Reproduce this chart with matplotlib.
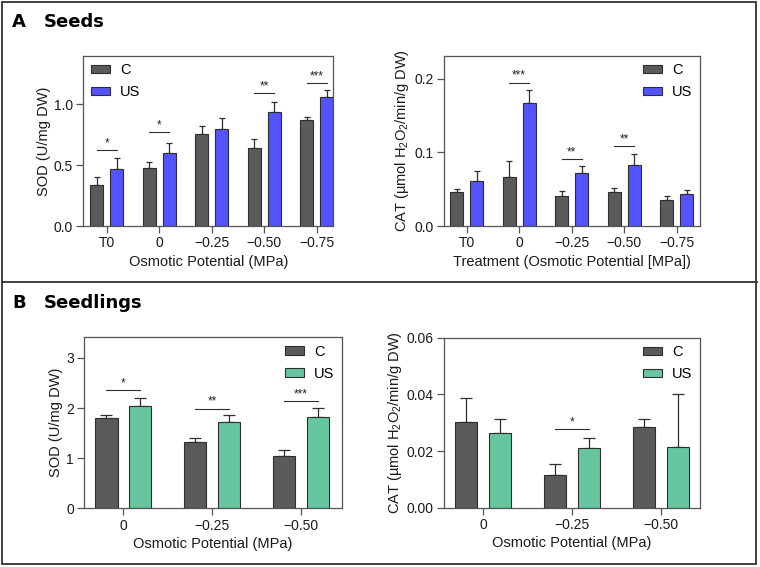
import matplotlib
matplotlib.use("Agg")
import matplotlib.pyplot as plt
import numpy as np
from matplotlib.patches import Rectangle
from matplotlib.lines import Line2D

plt.rcParams['font.family'] = ['Liberation Sans', 'DejaVu Sans']
plt.rcParams['mathtext.fontset'] = 'custom'
plt.rcParams['mathtext.rm'] = 'Liberation Sans'
plt.rcParams['mathtext.it'] = 'Liberation Sans'
plt.rcParams['mathtext.default'] = 'rm'

# ---------------- data ----------------
seed_cats = ["T0", "0", "\u22120.25", "\u22120.50", "\u22120.75"]
seedling_cats = ["0", "\u22120.25", "\u22120.50"]

sod_seed_c = [0.336, 0.478, 0.760, 0.645, 0.869]
sod_seed_c_err = [0.063, 0.047, 0.062, 0.074, 0.030]
sod_seed_us = [0.470, 0.598, 0.800, 0.934, 1.063]
sod_seed_us_err = [0.090, 0.088, 0.091, 0.085, 0.057]
sod_seed_sig_idx = [0, 1, 3, 4]
sod_seed_sig_y = [0.623, 0.773, 1.096, 1.178]
sod_seed_sig_lab = ["*", "*", "**", "***"]

cat_seed_c = [0.0460, 0.0664, 0.0406, 0.0465, 0.0357]
cat_seed_c_err = [0.0037, 0.0212, 0.0064, 0.0045, 0.0053]
cat_seed_us = [0.0605, 0.1666, 0.0718, 0.0826, 0.0433]
cat_seed_us_err = [0.0135, 0.0184, 0.0092, 0.0154, 0.0055]
cat_seed_sig_idx = [1, 2, 3]
cat_seed_sig_y = [0.1946, 0.0912, 0.1088]
cat_seed_sig_lab = ["***", "**", "**"]

sod_sdl_c = [1.796, 1.324, 1.038]
sod_sdl_c_err = [0.074, 0.073, 0.120]
sod_sdl_us = [2.036, 1.723, 1.816]
sod_sdl_us_err = [0.160, 0.133, 0.193]
sod_sdl_sig_idx = [0, 1, 2]
sod_sdl_sig_y = [2.355, 1.990, 2.140]
sod_sdl_sig_lab = ["*", "**", "***"]

cat_sdl_c = [0.0304, 0.0115, 0.0285]
cat_sdl_c_err = [0.0084, 0.0040, 0.0029]
cat_sdl_us = [0.0265, 0.0211, 0.0213]
cat_sdl_us_err = [0.0047, 0.0035, 0.0187]
cat_sdl_sig_idx = [1]
cat_sdl_sig_y = [0.0278]
cat_sdl_sig_lab = ["*"]

# ---------------- style ----------------
C_COL = "#5a5a5a"
BLUE = "#5454FF"
GREEN = "#66C6A0"
EDGE = "#2e2e2e"
SPINE = "#555555"
W = 0.25
OFF = 0.19

fig = plt.figure(figsize=(7.6, 5.67), dpi=100)


def panel(rect, cats, c, ce, us, use, col, ylim, yticks, yfmt, ylabel, xlabel,
          xlim, sig_idx, sig_y, sig_lab, legloc, legbbox, capsize):
    ax = fig.add_axes(rect)
    x = np.arange(len(cats))
    ax.bar(x - OFF, c, W, color=C_COL, edgecolor=EDGE, linewidth=0.8,
           label="C", zorder=2)
    ax.bar(x + OFF, us, W, color=col, edgecolor=EDGE, linewidth=0.8,
           label="US", zorder=2)
    ax.errorbar(x - OFF, c, yerr=[np.zeros(len(c)), ce], fmt="none",
                ecolor=EDGE, elinewidth=0.9, capsize=capsize, capthick=0.9,
                zorder=1)
    ax.errorbar(x + OFF, us, yerr=[np.zeros(len(us)), use], fmt="none",
                ecolor=EDGE, elinewidth=0.9, capsize=capsize, capthick=0.9,
                zorder=1)
    for i, h, lab in zip(sig_idx, sig_y, sig_lab):
        ax.plot([i - OFF, i + OFF], [h, h], color=EDGE, lw=0.8)
        ax.annotate(lab, (i, h), xytext=(0, 0.5), textcoords="offset points",
                    ha="center", va="bottom", fontsize=8.5, color="#222222")
    ax.set_xlim(*xlim)
    ax.set_ylim(*ylim)
    ax.set_xticks(x)
    ax.set_xticklabels(cats, fontsize=10)
    ax.set_yticks(yticks)
    ax.set_yticklabels([yfmt.format(v) for v in yticks], fontsize=10)
    for s in ax.spines.values():
        s.set_color(SPINE)
        s.set_linewidth(0.9)
    ax.tick_params(axis="both", direction="out", length=5, width=0.9,
                   color=SPINE, pad=2.5, labelcolor="#1a1a1a")
    ax.set_ylabel(ylabel, fontsize=10.5, labelpad=2, color="#1a1a1a")
    ax.set_xlabel(xlabel, fontsize=10.5, labelpad=3, color="#1a1a1a")
    ax.legend(loc=legloc, bbox_to_anchor=legbbox, frameon=False, fontsize=10.5,
              handlelength=1.3, handleheight=0.5, labelspacing=0.55,
              handletextpad=0.7, borderaxespad=0.2, borderpad=0.3)
    return ax


cat_label = "CAT (\u00b5mol H$_2$O$_2$/min/g DW)"

panel([0.1096, 0.6014, 0.3292, 0.3004], seed_cats, sod_seed_c, sod_seed_c_err,
      sod_seed_us, sod_seed_us_err, BLUE, (0, 1.4), [0.0, 0.5, 1.0], "{:.1f}",
      "SOD (U/mg DW)", "Osmotic Potential (MPa)", (-0.45, 4.32),
      sod_seed_sig_idx, sod_seed_sig_y, sod_seed_sig_lab, "upper left",
      (0.0, 1.0), 2.4)

panel([0.5842, 0.6014, 0.3368, 0.3004], seed_cats, cat_seed_c, cat_seed_c_err,
      cat_seed_us, cat_seed_us_err, BLUE, (0, 0.231), [0.0, 0.1, 0.2], "{:.1f}",
      cat_label, "Treatment (Osmotic Potential [MPa])", (-0.43, 4.44),
      cat_seed_sig_idx, cat_seed_sig_y, cat_seed_sig_lab, "upper right",
      (1.0, 1.0), 2.4)

panel([0.1109, 0.1035, 0.3387, 0.3016], seedling_cats, sod_sdl_c, sod_sdl_c_err,
      sod_sdl_us, sod_sdl_us_err, GREEN, (0, 3.41), [0, 1, 2, 3], "{:d}",
      "SOD (U/mg DW)", "Osmotic Potential (MPa)", (-0.44, 2.46),
      sod_sdl_sig_idx, sod_sdl_sig_y, sod_sdl_sig_lab, "upper right",
      (1.0, 1.0), 4.5)

panel([0.5842, 0.1046, 0.3368, 0.2998], seedling_cats, cat_sdl_c, cat_sdl_c_err,
      cat_sdl_us, cat_sdl_us_err, GREEN, (0, 0.06), [0.0, 0.02, 0.04, 0.06],
      "{:.2f}", cat_label, "Osmotic Potential (MPa)", (-0.44, 2.435),
      cat_sdl_sig_idx, cat_sdl_sig_y, cat_sdl_sig_lab, "upper right",
      (1.0, 1.0), 4.5)

# panel titles
def px(xp, yp):
    return xp / 760.0, 1 - yp / 567.0

fig.text(*px(12, 27), "A", fontsize=13, fontweight="bold",
         family="DejaVu Sans", va="baseline")
fig.text(*px(44, 27), "Seeds", fontsize=13, fontweight="bold",
         family="DejaVu Sans", va="baseline")
fig.text(*px(12, 307.5), "B", fontsize=13, fontweight="bold",
         family="DejaVu Sans", va="baseline")
fig.text(*px(44, 307.5), "Seedlings", fontsize=13, fontweight="bold",
         family="DejaVu Sans", va="baseline")

# frames
x0, y0 = px(1.5, 564)
x1, y1 = px(756.5, 1.5)
fig.add_artist(Rectangle((x0, y0), x1 - x0, y1 - y0, transform=fig.transFigure,
                         fill=False, edgecolor="#333333", linewidth=1.3))
yd = 1 - 282 / 567.0
fig.add_artist(Line2D([x0, x1], [yd, yd], transform=fig.transFigure,
                      color="#333333", linewidth=1.3))

fig.savefig("out.png", dpi=100)
